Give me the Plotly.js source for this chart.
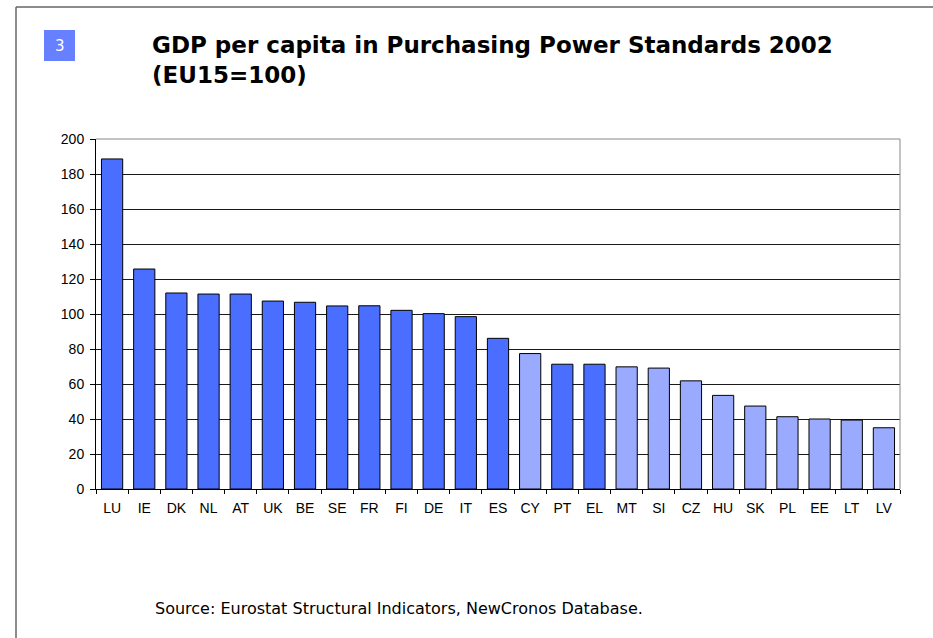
<!DOCTYPE html>
<html>
<head>
<meta charset="utf-8">
<script src="https://cdn.plot.ly/plotly-3.0.1.min.js"></script>
<style>
html,body{margin:0;padding:0;background:#fff;}
#chart{width:933px;height:638px;}
</style>
</head>
<body>
<div id="chart"></div>
<script>
// Data
const countries = ["LU","IE","DK","NL","AT","UK","BE","SE","FR","FI","DE","IT","ES","CY","PT","EL","MT","SI","CZ","HU","SK","PL","EE","LT","LV"];
const gdpPPS = [188.6,125.7,112,111.4,111.4,107.4,106.7,104.6,104.7,102.1,100.2,98.5,86.1,77.4,71.3,71.3,69.8,69.1,61.8,53.5,47.4,41.3,40,39.4,35];
const isNewMember = [false,false,false,false,false,false,false,false,false,false,false,false,false,true,false,false,true,true,true,true,true,true,true,true,true];
const yTicks = [0,20,40,60,80,100,120,140,160,180,200];
const titleLine1 = "GDP per capita in Purchasing Power Standards 2002";
const titleLine2 = "(EU15=100)";
const sourceText = "Source: Eurostat Structural Indicators, NewCronos Database.";

const W = 933, H = 638;
const L = 96, R = 33, T = 139, B = 149;
const pw = W - L - R, ph = H - T - B;
const px = x => (x - L) / pw;
const py = y => (H - B - y) / ph;

const colors = isNewMember.map(n => n ? "#99aaff" : "#4a6eff");
const titleText = titleLine1 + "<br>" + titleLine2;

const trace = {
  type: "bar",
  x: countries,
  y: gdpPPS,
  marker: {color: colors, line: {color: "#000", width: 1}},
  hoverinfo: "x+y"
};

const layout = {
  width: W, height: H,
  margin: {l: L, r: R, t: T, b: B, pad: 0},
  paper_bgcolor: "#fff",
  plot_bgcolor: "#fff",
  showlegend: false,
  bargap: 0.34,
  font: {family: "Liberation Sans, Arial, sans-serif", size: 12, color: "#000"},
  title: {
    text: titleText,
    font: {family: "DejaVu Sans, Verdana, sans-serif", size: 23, color: "#000", weight: "bold"},
    x: 152 / W, xref: "container", xanchor: "left",
    y: 1 - 53 / H, yref: "container", yanchor: "top"
  },
  xaxis: {
    type: "category",
    showline: true, linecolor: "#000", linewidth: 1,
    ticks: "outside", ticklen: 4, tickcolor: "#000", tickwidth: 1,
    tickson: "boundaries",
    ticklabelstandoff: 6,
    showgrid: false,
    tickfont: {family: "Liberation Sans, Arial, sans-serif", size: 14, color: "#000"},
    fixedrange: true
  },
  yaxis: {
    range: [0, 200],
    tickvals: yTicks,
    ticktext: yTicks.map(String),
    showline: true, linecolor: "#000", linewidth: 1,
    ticks: "outside", ticklen: 5, tickcolor: "#000",
    ticklabelstandoff: 3,
    showgrid: true, gridcolor: "#1a1a1a", gridwidth: 1,
    zeroline: false,
    tickfont: {family: "Liberation Sans, Arial, sans-serif", size: 14, color: "#000"},
    fixedrange: true
  },
  shapes: [
    // plot area border (top & right)
    {type: "line", xref: "paper", yref: "paper", x0: 0, x1: 1, y0: 1, y1: 1, line: {color: "#888", width: 1}},
    {type: "line", xref: "paper", yref: "paper", x0: 1, x1: 1, y0: 0, y1: 1, line: {color: "#888", width: 1}},
    // page frame (left & top)
    {type: "line", xref: "paper", yref: "paper", x0: px(16), x1: px(16), y0: py(7), y1: py(H + 2), line: {color: "#666", width: 1.5}},
    {type: "line", xref: "paper", yref: "paper", x0: px(16), x1: px(W + 2), y0: py(7), y1: py(7), line: {color: "#666", width: 1.5}},
    // slide-number box
    {type: "rect", xref: "paper", yref: "paper", x0: px(44), x1: px(75), y0: py(30), y1: py(61), fillcolor: "#6680ff", line: {width: 0}}
  ],
  annotations: [
    {text: "3", xref: "paper", yref: "paper", x: px(59.5), y: py(46), xanchor: "center", yanchor: "middle",
     showarrow: false, font: {family: "DejaVu Sans, Verdana, sans-serif", size: 15, color: "#fff"}},
    {text: sourceText, xref: "paper", yref: "paper", x: px(153), y: py(608), xanchor: "left", yanchor: "middle",
     showarrow: false, font: {family: "DejaVu Sans, Verdana, sans-serif", size: 16, color: "#000"}}
  ]
};

Plotly.newPlot("chart", [trace], layout, {displayModeBar: false, staticPlot: true});
</script>
</body>
</html>
